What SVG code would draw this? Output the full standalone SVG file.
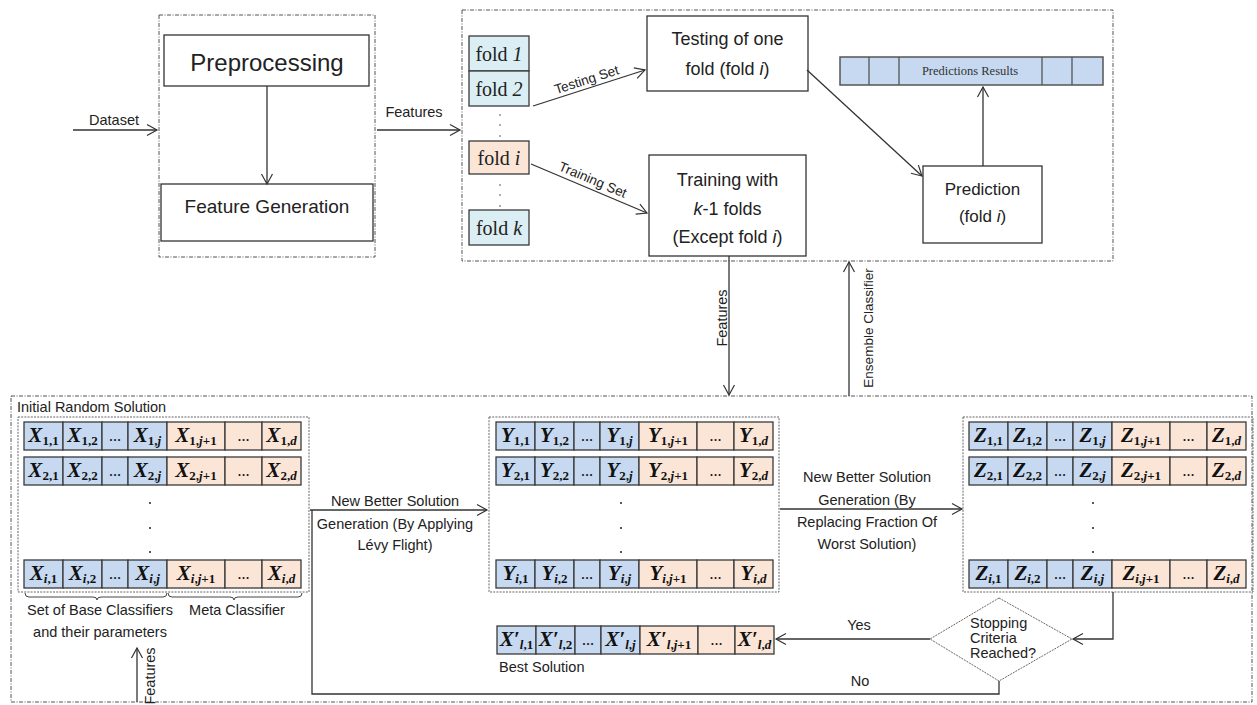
<svg xmlns="http://www.w3.org/2000/svg" xmlns:xlink="http://www.w3.org/1999/xlink" width="1257" height="705" viewBox="0 0 1257 705">
<style>
.frame{fill:none;stroke:#555;stroke-width:1;stroke-dasharray:4 1.5 1 1.5}
.inner{fill:none;stroke:#666;stroke-width:1;stroke-dasharray:2 1.2}
.box{fill:#fff;stroke:#333;stroke-width:1.3}
.cb{fill:#c6d9f0;stroke:#3a3a3a;stroke-width:1.3}
.co{fill:#fbe5d6;stroke:#3a3a3a;stroke-width:1.3}
.fb{fill:#daeef3;stroke:#3a3a3a;stroke-width:1.3}
.conn{fill:none;stroke:#333;stroke-width:1.3}
.sans{font-family:"Liberation Sans",Arial,sans-serif;fill:#222}
.cv{font-family:"Liberation Serif","Times New Roman",serif;font-weight:bold;font-style:italic;font-size:21px;fill:#111;text-anchor:middle}
.sb{font-size:13px;font-style:normal}
.si{font-style:italic}
.dd{font-family:"Liberation Serif",serif;font-weight:bold;font-size:12px;fill:#111;text-anchor:middle}
.fold{font-family:"Liberation Serif","Times New Roman",serif;font-size:20px;fill:#222;text-anchor:middle}
.mid{text-anchor:middle}
</style>
<defs>
<marker id="ah" viewBox="-12 -7 14 14" refX="0" refY="0" markerWidth="14" markerHeight="14" markerUnits="userSpaceOnUse" orient="auto">
<path d="M-10,-5.5 L0,0 L-10,5.5" fill="none" stroke="#333" stroke-width="1.2"/>
</marker>
<g id="rowbg">
<rect x="0" y="0" width="39" height="28" class="cb"/>
<rect x="39" y="0" width="39" height="28" class="cb"/>
<rect x="78" y="0" width="26" height="28" class="cb"/>
<rect x="104" y="0" width="39" height="28" class="cb"/>
<rect x="143" y="0" width="58" height="28" class="co"/>
<rect x="201" y="0" width="37" height="28" class="co"/>
<rect x="238" y="0" width="39" height="28" class="co"/>
</g>
<g id="vdots" fill="#222">
<circle cx="0" cy="0" r="1"/><circle cx="0" cy="25" r="1"/><circle cx="0" cy="49" r="1"/>
</g>
</defs>
<rect width="1257" height="705" fill="#fff"/>

<!-- frames -->
<g id="frames">
<rect class="frame" x="159" y="15" width="216" height="242"/>
<rect class="frame" x="462" y="10" width="651" height="251"/>
<rect class="frame" x="11" y="396" width="1241" height="306"/>
</g>

<!-- top left -->
<g id="preprocessing">
<rect class="box" x="164" y="35" width="205" height="51"/>
<text class="sans mid" x="267" y="71" font-size="24">Preprocessing</text>
</g>
<g id="feature-generation">
<rect class="box" x="161" y="184" width="212" height="57"/>
<text class="sans mid" x="267" y="213" font-size="19">Feature Generation</text>
</g>

<!-- folds -->
<g id="folds">
<rect class="fb" x="469" y="36" width="60" height="35"/>
<text class="fold" x="499" y="61">fold <tspan font-style="italic">1</tspan></text>
<rect class="fb" x="469" y="71" width="60" height="35"/>
<text class="fold" x="499" y="96">fold <tspan font-style="italic">2</tspan></text>
<g fill="#444"><circle cx="500" cy="115" r="0.8"/><circle cx="500" cy="125" r="0.8"/><circle cx="500" cy="136" r="0.8"/></g>
<rect class="co" x="469" y="141" width="60" height="33"/>
<text class="fold" x="499" y="165">fold <tspan font-style="italic">i</tspan></text>
<g fill="#444"><circle cx="500" cy="185" r="0.8"/><circle cx="500" cy="195" r="0.8"/><circle cx="500" cy="206" r="0.8"/></g>
<rect class="fb" x="469" y="210" width="60" height="35"/>
<text class="fold" x="499" y="235">fold <tspan font-style="italic">k</tspan></text>
</g>

<g id="testing">
<rect class="box" x="647" y="16" width="161" height="75"/>
<text class="sans mid" x="727.5" y="45" font-size="18">Testing of one</text>
<text class="sans mid" x="727.5" y="75" font-size="18">fold (fold <tspan font-style="italic">i</tspan>)</text>
</g>
<g id="training">
<rect class="box" x="649" y="155" width="157" height="101"/>
<text class="sans mid" x="727.5" y="186" font-size="18">Training with</text>
<text class="sans mid" x="727.5" y="215" font-size="18"><tspan font-style="italic">k</tspan>-1 folds</text>
<text class="sans mid" x="727.5" y="243" font-size="18">(Except fold <tspan font-style="italic">i</tspan>)</text>
</g>
<g id="prediction">
<rect class="box" x="923" y="166" width="119" height="77"/>
<text class="sans mid" x="982.5" y="195" font-size="17">Prediction</text>
<text class="sans mid" x="982.5" y="222" font-size="17">(fold <tspan font-style="italic">i</tspan>)</text>
</g>
<g id="predictions-results">
<rect x="840" y="57" width="263" height="28" fill="#c6d9f1" stroke="#555" stroke-width="1.5"/>
<path d="M869,57V85M899,57V85M1042,57V85M1072,57V85" stroke="#555" stroke-width="1.3"/>
<text x="970" y="75" font-family="Liberation Serif, serif" font-size="12.5" fill="#333" text-anchor="middle">Predictions  Results</text>
</g>

<!-- X matrix -->
<g id="initial-solution">
<text class="sans" x="17" y="412" font-size="14.5">Initial Random Solution</text>
<rect class="inner" x="18" y="417" width="291" height="175"/>
<g transform="translate(24,422)">
<use xlink:href="#rowbg"/>
<text class="cv" x="19.5" y="20">X<tspan class="sb" dy="3">1,1</tspan></text>
<text class="cv" x="58.5" y="20">X<tspan class="sb" dy="3">1,2</tspan></text>
<text class="dd" x="91" y="19">…</text>
<text class="cv" x="123.5" y="20">X<tspan class="sb" dy="3">1,<tspan class="si">j</tspan></tspan></text>
<text class="cv" x="172" y="20">X<tspan class="sb" dy="3">1,<tspan class="si">j</tspan>+1</tspan></text>
<text class="dd" x="219.5" y="19">…</text>
<text class="cv" x="257.5" y="20">X<tspan class="sb" dy="3">1,<tspan class="si">d</tspan></tspan></text>
</g>
<g transform="translate(24,457)">
<use xlink:href="#rowbg"/>
<text class="cv" x="19.5" y="20">X<tspan class="sb" dy="3">2,1</tspan></text>
<text class="cv" x="58.5" y="20">X<tspan class="sb" dy="3">2,2</tspan></text>
<text class="dd" x="91" y="19">…</text>
<text class="cv" x="123.5" y="20">X<tspan class="sb" dy="3">2,<tspan class="si">j</tspan></tspan></text>
<text class="cv" x="172" y="20">X<tspan class="sb" dy="3">2,<tspan class="si">j</tspan>+1</tspan></text>
<text class="dd" x="219.5" y="19">…</text>
<text class="cv" x="257.5" y="20">X<tspan class="sb" dy="3">2,<tspan class="si">d</tspan></tspan></text>
</g>
<use xlink:href="#vdots" x="150" y="503"/>
<g transform="translate(24,560)">
<use xlink:href="#rowbg"/>
<text class="cv" x="19.5" y="20">X<tspan class="sb" dy="3"><tspan class="si">i</tspan>,1</tspan></text>
<text class="cv" x="58.5" y="20">X<tspan class="sb" dy="3"><tspan class="si">i</tspan>,2</tspan></text>
<text class="dd" x="91" y="19">…</text>
<text class="cv" x="123.5" y="20">X<tspan class="sb" dy="3"><tspan class="si">i</tspan>,<tspan class="si">j</tspan></tspan></text>
<text class="cv" x="172" y="20">X<tspan class="sb" dy="3"><tspan class="si">i</tspan>,<tspan class="si">j</tspan>+1</tspan></text>
<text class="dd" x="219.5" y="19">…</text>
<text class="cv" x="257.5" y="20">X<tspan class="sb" dy="3"><tspan class="si">i</tspan>,<tspan class="si">d</tspan></tspan></text>
</g>
<path d="M25,593 Q25,597 29,597 L93,597 Q97,597 97,600 Q97,597 101,597 L163,597 Q167,597 167,593" fill="none" stroke="#444" stroke-width="1"/>
<path d="M168,593 Q168,597 172,597 L230,597 Q234,597 234,600 Q234,597 238,597 L298,597 Q302,597 302,593" fill="none" stroke="#444" stroke-width="1"/>
<text class="sans mid" x="100" y="615" font-size="14.5">Set of Base Classifiers</text>
<text class="sans mid" x="100" y="637" font-size="14.5">and their parameters</text>
<text class="sans mid" x="237" y="615" font-size="14.5">Meta Classifier</text>
</g>

<!-- Y matrix -->
<g id="levy-solution">
<rect class="inner" x="489" y="417" width="290" height="175"/>
<g transform="translate(496,422)">
<use xlink:href="#rowbg"/>
<text class="cv" x="19.5" y="20">Y<tspan class="sb" dy="3">1,1</tspan></text>
<text class="cv" x="58.5" y="20">Y<tspan class="sb" dy="3">1,2</tspan></text>
<text class="dd" x="91" y="19">…</text>
<text class="cv" x="123.5" y="20">Y<tspan class="sb" dy="3">1,<tspan class="si">j</tspan></tspan></text>
<text class="cv" x="172" y="20">Y<tspan class="sb" dy="3">1,<tspan class="si">j</tspan>+1</tspan></text>
<text class="dd" x="219.5" y="19">…</text>
<text class="cv" x="257.5" y="20">Y<tspan class="sb" dy="3">1,<tspan class="si">d</tspan></tspan></text>
</g>
<g transform="translate(496,457)">
<use xlink:href="#rowbg"/>
<text class="cv" x="19.5" y="20">Y<tspan class="sb" dy="3">2,1</tspan></text>
<text class="cv" x="58.5" y="20">Y<tspan class="sb" dy="3">2,2</tspan></text>
<text class="dd" x="91" y="19">…</text>
<text class="cv" x="123.5" y="20">Y<tspan class="sb" dy="3">2,<tspan class="si">j</tspan></tspan></text>
<text class="cv" x="172" y="20">Y<tspan class="sb" dy="3">2,<tspan class="si">j</tspan>+1</tspan></text>
<text class="dd" x="219.5" y="19">…</text>
<text class="cv" x="257.5" y="20">Y<tspan class="sb" dy="3">2,<tspan class="si">d</tspan></tspan></text>
</g>
<use xlink:href="#vdots" x="621" y="503"/>
<g transform="translate(496,560)">
<use xlink:href="#rowbg"/>
<text class="cv" x="19.5" y="20">Y<tspan class="sb" dy="3"><tspan class="si">i</tspan>,1</tspan></text>
<text class="cv" x="58.5" y="20">Y<tspan class="sb" dy="3"><tspan class="si">i</tspan>,2</tspan></text>
<text class="dd" x="91" y="19">…</text>
<text class="cv" x="123.5" y="20">Y<tspan class="sb" dy="3"><tspan class="si">i</tspan>,<tspan class="si">j</tspan></tspan></text>
<text class="cv" x="172" y="20">Y<tspan class="sb" dy="3"><tspan class="si">i</tspan>,<tspan class="si">j</tspan>+1</tspan></text>
<text class="dd" x="219.5" y="19">…</text>
<text class="cv" x="257.5" y="20">Y<tspan class="sb" dy="3"><tspan class="si">i</tspan>,<tspan class="si">d</tspan></tspan></text>
</g>
</g>

<!-- Z matrix -->
<g id="replaced-solution">
<rect class="inner" x="963" y="417" width="290" height="175"/>
<g transform="translate(969,422)">
<use xlink:href="#rowbg"/>
<text class="cv" x="19.5" y="20">Z<tspan class="sb" dy="3">1,1</tspan></text>
<text class="cv" x="58.5" y="20">Z<tspan class="sb" dy="3">1,2</tspan></text>
<text class="dd" x="91" y="19">…</text>
<text class="cv" x="123.5" y="20">Z<tspan class="sb" dy="3">1,<tspan class="si">j</tspan></tspan></text>
<text class="cv" x="172" y="20">Z<tspan class="sb" dy="3">1,<tspan class="si">j</tspan>+1</tspan></text>
<text class="dd" x="219.5" y="19">…</text>
<text class="cv" x="257.5" y="20">Z<tspan class="sb" dy="3">1,<tspan class="si">d</tspan></tspan></text>
</g>
<g transform="translate(969,457)">
<use xlink:href="#rowbg"/>
<text class="cv" x="19.5" y="20">Z<tspan class="sb" dy="3">2,1</tspan></text>
<text class="cv" x="58.5" y="20">Z<tspan class="sb" dy="3">2,2</tspan></text>
<text class="dd" x="91" y="19">…</text>
<text class="cv" x="123.5" y="20">Z<tspan class="sb" dy="3">2,<tspan class="si">j</tspan></tspan></text>
<text class="cv" x="172" y="20">Z<tspan class="sb" dy="3">2,<tspan class="si">j</tspan>+1</tspan></text>
<text class="dd" x="219.5" y="19">…</text>
<text class="cv" x="257.5" y="20">Z<tspan class="sb" dy="3">2,<tspan class="si">d</tspan></tspan></text>
</g>
<use xlink:href="#vdots" x="1093" y="503"/>
<g transform="translate(969,560)">
<use xlink:href="#rowbg"/>
<text class="cv" x="19.5" y="20">Z<tspan class="sb" dy="3"><tspan class="si">i</tspan>,1</tspan></text>
<text class="cv" x="58.5" y="20">Z<tspan class="sb" dy="3"><tspan class="si">i</tspan>,2</tspan></text>
<text class="dd" x="91" y="19">…</text>
<text class="cv" x="123.5" y="20">Z<tspan class="sb" dy="3"><tspan class="si">i</tspan>,<tspan class="si">j</tspan></tspan></text>
<text class="cv" x="172" y="20">Z<tspan class="sb" dy="3"><tspan class="si">i</tspan>,<tspan class="si">j</tspan>+1</tspan></text>
<text class="dd" x="219.5" y="19">…</text>
<text class="cv" x="257.5" y="20">Z<tspan class="sb" dy="3"><tspan class="si">i</tspan>,<tspan class="si">d</tspan></tspan></text>
</g>
</g>

<!-- Best solution -->
<g id="best-solution">
<g transform="translate(497,626)">
<use xlink:href="#rowbg"/>
<text class="cv" x="19.5" y="20">X′<tspan class="sb" dy="3"><tspan class="si">l</tspan>,1</tspan></text>
<text class="cv" x="58.5" y="20">X′<tspan class="sb" dy="3"><tspan class="si">l</tspan>,2</tspan></text>
<text class="dd" x="91" y="19">…</text>
<text class="cv" x="123.5" y="20">X′<tspan class="sb" dy="3"><tspan class="si">l</tspan>,<tspan class="si">j</tspan></tspan></text>
<text class="cv" x="172" y="20">X′<tspan class="sb" dy="3"><tspan class="si">l</tspan>,<tspan class="si">j</tspan>+1</tspan></text>
<text class="dd" x="219.5" y="19">…</text>
<text class="cv" x="257.5" y="20">X′<tspan class="sb" dy="3"><tspan class="si">l</tspan>,<tspan class="si">d</tspan></tspan></text>
</g>
<text class="sans" x="499" y="672" font-size="14.5">Best Solution</text>
</g>

<!-- decision -->
<g id="stopping-criteria">
<path d="M999,598 L1072,639 L999,681 L930,639 Z" fill="#fff" stroke="#666" stroke-width="1" stroke-dasharray="2 1"/>
<text class="sans" x="970" y="628" font-size="14.5">Stopping</text>
<text class="sans" x="970" y="643" font-size="14.5">Criteria</text>
<text class="sans" x="970" y="658" font-size="14.5">Reached?</text>
</g>

<!-- connectors -->
<g id="connectors">
<line class="conn" x1="73" y1="130" x2="157" y2="130" marker-end="url(#ah)"/>
<text class="sans" x="89" y="125" font-size="14.5">Dataset</text>
<line class="conn" x1="267" y1="86" x2="267" y2="184" marker-end="url(#ah)"/>
<line class="conn" x1="377" y1="130" x2="460" y2="130" marker-end="url(#ah)"/>
<text class="sans mid" x="414" y="117" font-size="14.5">Features</text>
<line class="conn" x1="533" y1="106" x2="645" y2="70" marker-end="url(#ah)"/>
<text class="sans mid" x="588" y="84" font-size="13.5" transform="rotate(-17.8 588 84)">Testing Set</text>
<line class="conn" x1="531" y1="164" x2="647" y2="213" marker-end="url(#ah)"/>
<text class="sans mid" x="591" y="184" font-size="13.5" transform="rotate(22.9 591 184)">Training Set</text>
<line class="conn" x1="807" y1="70" x2="922" y2="176" marker-end="url(#ah)"/>
<line class="conn" x1="983" y1="166" x2="983" y2="87" marker-end="url(#ah)"/>
<line class="conn" x1="729" y1="256" x2="729" y2="395" marker-end="url(#ah)"/>
<text class="sans mid" font-size="14.5" transform="translate(727,318) rotate(-90)">Features</text>
<line class="conn" x1="849" y1="396" x2="849" y2="262" marker-end="url(#ah)"/>
<text class="sans mid" font-size="13.5" transform="translate(873,328) rotate(-90)">Ensemble Classifier</text>
<line class="conn" x1="310" y1="510" x2="487" y2="510" marker-end="url(#ah)"/>
<text class="sans mid" x="395" y="506" font-size="14.5">New Better Solution</text>
<text class="sans mid" x="395" y="529" font-size="14.5">Generation (By Applying</text>
<text class="sans mid" x="395" y="550" font-size="14.5">Lévy Flight)</text>
<line class="conn" x1="780" y1="509" x2="962" y2="509" marker-end="url(#ah)"/>
<text class="sans mid" x="867" y="482" font-size="14.5">New Better Solution</text>
<text class="sans mid" x="867" y="505" font-size="14.5">Generation (By</text>
<text class="sans mid" x="867" y="527" font-size="14.5">Replacing Fraction Of</text>
<text class="sans mid" x="867" y="549" font-size="14.5">Worst Solution)</text>
<polyline class="conn" points="1113,592 1113,639 1073,639" marker-end="url(#ah)"/>
<line class="conn" x1="930" y1="639" x2="776" y2="639" marker-end="url(#ah)"/>
<text class="sans mid" x="859" y="630" font-size="14.5">Yes</text>
<polyline class="conn" points="999,681 999,694 312,694 312,510"/>
<text class="sans mid" x="860" y="686" font-size="14.5">No</text>
<line class="conn" x1="137" y1="702" x2="137" y2="648" marker-end="url(#ah)"/>
<text class="sans mid" font-size="14.5" transform="translate(155,676) rotate(-90)">Features</text>
</g>
</svg>
